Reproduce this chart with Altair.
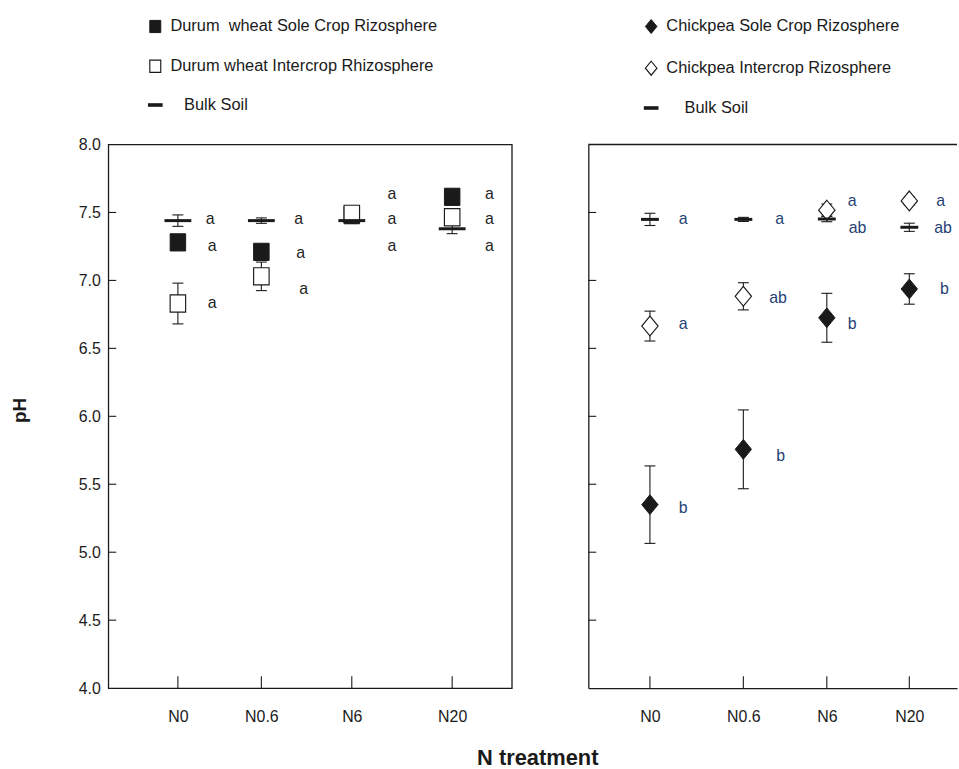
import altair as alt
import pandas as pd

FONT = "Liberation Sans"
INK = "#1a1a1a"

# ---------------- data ----------------
N_LEVELS = ["N0", "N0.6", "N6", "N20"]
Y_TICKS = [4.0, 4.5, 5.0, 5.5, 6.0, 6.5, 7.0, 7.5, 8.0]

# a) durum wheat
DW_NAMES = ["Durum\u00a0 wheat Sole Crop Rizosphere", "Durum wheat Intercrop Rhizosphere",
            "\u200b\u00a0\u00a0\u00a0Bulk Soil"]
DW_SOLE = [7.28, 7.21, 7.48, 7.615]
DW_SOLE_SE = [0.04, 0.04, 0.03, 0.04]
DW_INTER = [6.83, 7.03, 7.49, 7.465]
DW_INTER_SE = [0.15, 0.105, 0.03, 0.04]
DW_BULK = [7.44, 7.44, 7.44, 7.38]
DW_BULK_SE = [0.042, 0.02, 0.02, 0.036]
DW_SOLE_LET = ["a", "a", "a", "a"]
DW_INTER_LET = ["a", "a", "a", "a"]
DW_BULK_LET = ["a", "a", "a", "a"]

# b) chickpea
CP_NAMES = ["Chickpea Sole Crop Rizosphere", "Chickpea Intercrop Rizosphere",
            "\u200b\u00a0\u00a0\u00a0\u00a0Bulk Soil"]
CP_SOLE = [5.35, 5.757, 6.725, 6.937]
CP_SOLE_SE = [0.285, 0.29, 0.18, 0.112]
CP_INTER = [6.664, 6.883, 7.517, 7.585]
CP_INTER_SE = [0.11, 0.10, 0.045, 0.03]
CP_BULK = [7.449, 7.449, 7.452, 7.391]
CP_BULK_SE = [0.045, 0.015, 0.02, 0.03]
CP_SOLE_LET = ["b", "b", "b", "b"]
CP_INTER_LET = ["a", "ab", "a", "a"]
CP_BULK_LET = ["a", "a", "ab", "ab"]

# ---------------- layout (annotation anchors, px / pH units) ----------------
A_W, B_W, H = 406, 371, 547
XPOS_A = [70, 154, 245, 346]
XPOS_B = [62, 156, 240, 323]
LET_Y_A = [[7.254, 7.201, 7.639, 7.639], [6.830, 6.940, 7.449, 7.449], [7.449, 7.449, 7.256, 7.256]]
LET_DX_A = [[30, 35, 36, 33], [30, 38, 36, 33], [28, 33, 36, 33]]
LET_Y_B = [[5.324, 5.709, 6.676, 6.937], [6.676, 6.872, 7.583, 7.583], [7.449, 7.449, 7.388, 7.388]]
LET_DX_B = [[29, 33, 21, 31], [29, 26, 21, 27], [29, 32, 22, 25]]

SQUARE = "M-0.9,-1L0.9,-1L0.9,1L-0.9,1Z"
DIAMOND = "M0,-1.15L0.95,0L0,1.15L-0.95,0Z"
DASH = "M-1.1,-0.2L1.1,-0.2L1.1,0.2L-1.1,0.2Z"


def build(names, means, ses, lets, let_y, let_dx, xpos):
    rows = []
    for s, name in enumerate(names):
        for i, cat in enumerate(N_LEVELS):
            m, e = means[s][i], ses[s][i]
            rows.append(dict(cat=cat, x=xpos[i], series=name, bulk=(s == 2), mean=m,
                             lo=m - e, hi=m + e, letter=lets[s][i],
                             lx=xpos[i] + let_dx[s][i], ly=let_y[s][i]))
    return pd.DataFrame(rows)


def panel(df, names, shapes, fills, xpos, width, tick_len, let_color, leg_x, leg_y,
          left_labels, frame):
    xs = alt.Scale(domain=[0, width], nice=False, zero=False)
    ys = alt.Scale(domain=[4, 8], nice=False, zero=False)
    label_expr = ("[" + ",".join(f"'{c}'" for c in N_LEVELS) + "][indexof(["
                  + ",".join(str(v) for v in xpos) + "], datum.value)]")
    x_axis = alt.Axis(values=xpos, labelExpr=label_expr, title="", ticks=False,
                      domain=not frame, domainColor=INK, domainWidth=1.3, grid=False,
                      labelPadding=21, labelFontSize=16, labelFont=FONT, labelColor=INK,
                      labelFlush=False, labelOverlap=False)
    if left_labels:
        y_axis = alt.Axis(values=Y_TICKS, format=".1f", title="pH", titleFont=FONT,
                          titleFontSize=19, titleFontWeight="bold", titleColor=INK,
                          titlePadding=49, titleY=267, labelPadding=8, labelFontSize=16,
                          labelFont=FONT, labelColor=INK, ticks=False, domain=False,
                          grid=False, labelOverlap=False)
    else:
        y_axis = alt.Axis(values=Y_TICKS, labels=False, title="", ticks=False,
                          domain=True, domainColor=INK, domainWidth=1.3, grid=False)

    leg = alt.Legend(title=None, orient="none", legendX=leg_x, legendY=leg_y,
                     direction="vertical", labelFont=FONT, labelFontSize=16.5, labelColor=INK,
                     labelLimit=600, symbolSize=150, rowPadding=22, labelOffset=7, padding=0)

    def X(f):
        return alt.X(f, type="quantitative", scale=xs, axis=x_axis)

    def Y(f):
        return alt.Y(f, type="quantitative", scale=ys, axis=y_axis)

    base = alt.Chart(df)
    err = base.mark_rule(color=INK, strokeWidth=1.1).encode(x=X("x"), y=Y("lo"), y2="hi:Q")
    cap_lo = base.mark_tick(orient="horizontal", size=11, thickness=1.1, color=INK,
                            opacity=1).encode(x=X("x"), y=Y("lo"))
    cap_hi = base.mark_tick(orient="horizontal", size=11, thickness=1.1, color=INK,
                            opacity=1).encode(x=X("x"), y=Y("hi"))
    pts = base.transform_filter(~alt.datum.bulk).mark_point(
        opacity=1, stroke=INK, size=300).encode(
        x=X("x"), y=Y("mean"),
        shape=alt.Shape("series:N", scale=alt.Scale(domain=names, range=shapes), legend=leg),
        fill=alt.Fill("series:N", scale=alt.Scale(domain=names, range=fills), legend=leg),
        strokeWidth=alt.StrokeWidth("series:N",
                                    scale=alt.Scale(domain=names, range=[1.0, 1.3, 0.5]),
                                    legend=leg),
    )
    bulk = base.transform_filter(alt.datum.bulk).mark_tick(
        orient="horizontal", size=tick_len, thickness=3, color=INK, opacity=1).encode(
        x=X("x"), y=Y("mean"))
    txt = base.mark_text(align="left", baseline="middle", font=FONT, fontSize=16,
                         color=let_color).encode(x=X("lx"), y=Y("ly"), text="letter:N")
    ytk = alt.Chart(pd.DataFrame({"v": Y_TICKS[1:-1]})).mark_rule(
        color=INK, strokeWidth=1.1).encode(y=Y("v"), x=alt.value(0), x2=alt.value(8))
    xtk = alt.Chart(pd.DataFrame({"x": xpos})).mark_rule(color=INK, strokeWidth=1.1).encode(
        x=X("x"), y=alt.value(H - 12), y2=alt.value(H))
    layers = [err, cap_lo, cap_hi, pts, bulk, txt, ytk, xtk]
    if not frame:
        top = alt.Chart(pd.DataFrame({"k": [0]})).mark_rule(color=INK, strokeWidth=1.3).encode(
            y=alt.value(0), x=alt.value(0), x2=alt.value(width))
        layers.append(top)
    ch = alt.layer(*layers).properties(width=width, height=H)
    if frame:
        ch = ch.properties(view=alt.ViewBackground(stroke=INK, strokeWidth=1.3))
    else:
        ch = ch.properties(view=alt.ViewBackground(stroke="transparent"))
    return ch


df_a = build(DW_NAMES, [DW_SOLE, DW_INTER, DW_BULK], [DW_SOLE_SE, DW_INTER_SE, DW_BULK_SE],
             [DW_SOLE_LET, DW_INTER_LET, DW_BULK_LET], LET_Y_A, LET_DX_A, XPOS_A)
df_b = build(CP_NAMES, [CP_SOLE, CP_INTER, CP_BULK], [CP_SOLE_SE, CP_INTER_SE, CP_BULK_SE],
             [CP_SOLE_LET, CP_INTER_LET, CP_BULK_LET], LET_Y_B, LET_DX_B, XPOS_B)

pa = panel(df_a, DW_NAMES, [SQUARE, SQUARE, DASH], [INK, "white", INK], XPOS_A, A_W, 27,
           "#222222", 39, -127, True, True)
pb = panel(df_b, CP_NAMES, [DIAMOND, DIAMOND, DASH], [INK, "white", INK], XPOS_B, B_W, 18,
           "#243f74", 55, -127, False, False)

chart = (
    alt.hconcat(pa, pb, spacing=74)
    .resolve_scale(x="independent", y="independent", shape="independent", fill="independent",
                   strokeWidth="independent")
    .resolve_legend(shape="independent", fill="independent", strokeWidth="independent")
    .properties(
        title=alt.TitleParams("N treatment", orient="bottom", anchor="middle", font=FONT,
                              fontSize=22, fontWeight="bold", color=INK, offset=23, dx=54),
        padding={"left": 10, "top": 15, "right": 0, "bottom": 0},
    )
    .configure(font=FONT)
    .configure_view(stroke="transparent")
)

chart.save("out.html", embed_options={"renderer": "svg", "actions": False})
